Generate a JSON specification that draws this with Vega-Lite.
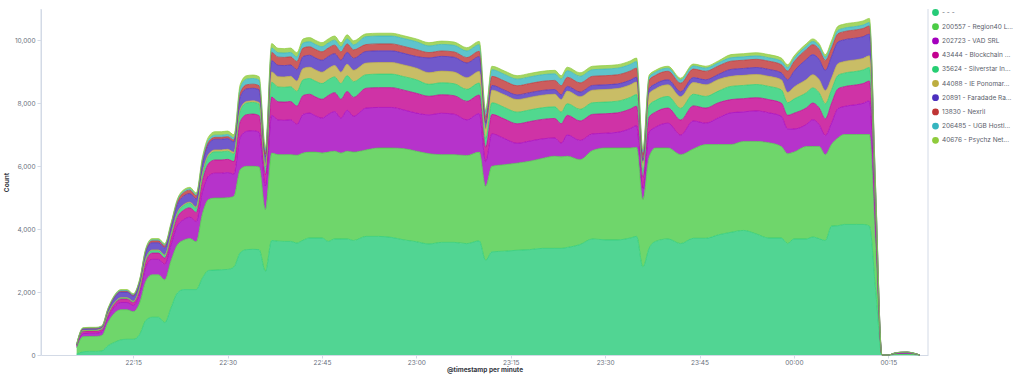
{
"$schema": "https://vega.github.io/schema/vega-lite/v6.json",
"width": 887, "height": 346,
"autosize": {"type": "none"},
"padding": {"left": 41, "top": 9, "right": 96, "bottom": 19},
"background": "white",
"config": {"view": {"stroke": null}},
"datasets": {
"names": [
{"s":0,"name":"- - -"},{"s":1,"name":"200557 - Region40 L..."},{"s":2,"name":"202723 - VAD SRL"},{"s":3,"name":"43444 - Blockchain ..."},{"s":4,"name":"35624 - Silverstar In..."},{"s":5,"name":"44088 - IE Ponomar..."},{"s":6,"name":"20891 - Faradade Ra..."},{"s":7,"name":"13830 - Nexril"},{"s":8,"name":"206485 - UGB Hostl..."},{"s":9,"name":"40676 - Psychz Net..."}
]
},
"layer": [
{
"data": {"values": [
{"t":"2024-01-01T22:06","s":0,"v":30},{"t":"2024-01-01T22:06","s":1,"v":200},{"t":"2024-01-01T22:06","s":2,"v":42},{"t":"2024-01-01T22:06","s":3,"v":30},{"t":"2024-01-01T22:06","s":4,"v":8},{"t":"2024-01-01T22:06","s":5,"v":4},{"t":"2024-01-01T22:06","s":6,"v":16},{"t":"2024-01-01T22:06","s":7,"v":8},{"t":"2024-01-01T22:06","s":8,"v":4},{"t":"2024-01-01T22:06","s":9,"v":8},
{"t":"2024-01-01T22:07","s":0,"v":100},{"t":"2024-01-01T22:07","s":1,"v":480},{"t":"2024-01-01T22:07","s":2,"v":100},{"t":"2024-01-01T22:07","s":3,"v":70},{"t":"2024-01-01T22:07","s":4,"v":20},{"t":"2024-01-01T22:07","s":5,"v":10},{"t":"2024-01-01T22:07","s":6,"v":40},{"t":"2024-01-01T22:07","s":7,"v":20},{"t":"2024-01-01T22:07","s":8,"v":10},{"t":"2024-01-01T22:07","s":9,"v":20},
{"t":"2024-01-01T22:08","s":0,"v":115},{"t":"2024-01-01T22:08","s":1,"v":475},{"t":"2024-01-01T22:08","s":2,"v":100},{"t":"2024-01-01T22:08","s":3,"v":70},{"t":"2024-01-01T22:08","s":4,"v":20},{"t":"2024-01-01T22:08","s":5,"v":10},{"t":"2024-01-01T22:08","s":6,"v":40},{"t":"2024-01-01T22:08","s":7,"v":20},{"t":"2024-01-01T22:08","s":8,"v":10},{"t":"2024-01-01T22:08","s":9,"v":20},
{"t":"2024-01-01T22:09","s":0,"v":115},{"t":"2024-01-01T22:09","s":1,"v":475},{"t":"2024-01-01T22:09","s":2,"v":100},{"t":"2024-01-01T22:09","s":3,"v":70},{"t":"2024-01-01T22:09","s":4,"v":20},{"t":"2024-01-01T22:09","s":5,"v":10},{"t":"2024-01-01T22:09","s":6,"v":40},{"t":"2024-01-01T22:09","s":7,"v":20},{"t":"2024-01-01T22:09","s":8,"v":10},{"t":"2024-01-01T22:09","s":9,"v":20},
{"t":"2024-01-01T22:10","s":0,"v":130},{"t":"2024-01-01T22:10","s":1,"v":490},{"t":"2024-01-01T22:10","s":2,"v":120},{"t":"2024-01-01T22:10","s":3,"v":70},{"t":"2024-01-01T22:10","s":4,"v":20},{"t":"2024-01-01T22:10","s":5,"v":10},{"t":"2024-01-01T22:10","s":6,"v":40},{"t":"2024-01-01T22:10","s":7,"v":20},{"t":"2024-01-01T22:10","s":8,"v":10},{"t":"2024-01-01T22:10","s":9,"v":20},
{"t":"2024-01-01T22:11","s":0,"v":300},{"t":"2024-01-01T22:11","s":1,"v":750},{"t":"2024-01-01T22:11","s":2,"v":150},{"t":"2024-01-01T22:11","s":3,"v":90},{"t":"2024-01-01T22:11","s":4,"v":25},{"t":"2024-01-01T22:11","s":5,"v":10},{"t":"2024-01-01T22:11","s":6,"v":110},{"t":"2024-01-01T22:11","s":7,"v":25},{"t":"2024-01-01T22:11","s":8,"v":15},{"t":"2024-01-01T22:11","s":9,"v":25},
{"t":"2024-01-01T22:12","s":0,"v":400},{"t":"2024-01-01T22:12","s":1,"v":930},{"t":"2024-01-01T22:12","s":2,"v":190},{"t":"2024-01-01T22:12","s":3,"v":100},{"t":"2024-01-01T22:12","s":4,"v":30},{"t":"2024-01-01T22:12","s":5,"v":10},{"t":"2024-01-01T22:12","s":6,"v":160},{"t":"2024-01-01T22:12","s":7,"v":30},{"t":"2024-01-01T22:12","s":8,"v":20},{"t":"2024-01-01T22:12","s":9,"v":30},
{"t":"2024-01-01T22:13","s":0,"v":480},{"t":"2024-01-01T22:13","s":1,"v":960},{"t":"2024-01-01T22:13","s":2,"v":230},{"t":"2024-01-01T22:13","s":3,"v":110},{"t":"2024-01-01T22:13","s":4,"v":30},{"t":"2024-01-01T22:13","s":5,"v":10},{"t":"2024-01-01T22:13","s":6,"v":180},{"t":"2024-01-01T22:13","s":7,"v":30},{"t":"2024-01-01T22:13","s":8,"v":20},{"t":"2024-01-01T22:13","s":9,"v":30},
{"t":"2024-01-01T22:14","s":0,"v":500},{"t":"2024-01-01T22:14","s":1,"v":940},{"t":"2024-01-01T22:14","s":2,"v":230},{"t":"2024-01-01T22:14","s":3,"v":110},{"t":"2024-01-01T22:14","s":4,"v":30},{"t":"2024-01-01T22:14","s":5,"v":10},{"t":"2024-01-01T22:14","s":6,"v":180},{"t":"2024-01-01T22:14","s":7,"v":30},{"t":"2024-01-01T22:14","s":8,"v":20},{"t":"2024-01-01T22:14","s":9,"v":30},
{"t":"2024-01-01T22:15","s":0,"v":500},{"t":"2024-01-01T22:15","s":1,"v":880},{"t":"2024-01-01T22:15","s":2,"v":190},{"t":"2024-01-01T22:15","s":3,"v":100},{"t":"2024-01-01T22:15","s":4,"v":30},{"t":"2024-01-01T22:15","s":5,"v":10},{"t":"2024-01-01T22:15","s":6,"v":160},{"t":"2024-01-01T22:15","s":7,"v":30},{"t":"2024-01-01T22:15","s":8,"v":20},{"t":"2024-01-01T22:15","s":9,"v":30},
{"t":"2024-01-01T22:16","s":0,"v":650},{"t":"2024-01-01T22:16","s":1,"v":1000},{"t":"2024-01-01T22:16","s":2,"v":290},{"t":"2024-01-01T22:16","s":3,"v":130},{"t":"2024-01-01T22:16","s":4,"v":40},{"t":"2024-01-01T22:16","s":5,"v":10},{"t":"2024-01-01T22:16","s":6,"v":190},{"t":"2024-01-01T22:16","s":7,"v":40},{"t":"2024-01-01T22:16","s":8,"v":20},{"t":"2024-01-01T22:16","s":9,"v":30},
{"t":"2024-01-01T22:17","s":0,"v":1100},{"t":"2024-01-01T22:17","s":1,"v":1250},{"t":"2024-01-01T22:17","s":2,"v":440},{"t":"2024-01-01T22:17","s":3,"v":180},{"t":"2024-01-01T22:17","s":4,"v":70},{"t":"2024-01-01T22:17","s":5,"v":20},{"t":"2024-01-01T22:17","s":6,"v":220},{"t":"2024-01-01T22:17","s":7,"v":50},{"t":"2024-01-01T22:17","s":8,"v":30},{"t":"2024-01-01T22:17","s":9,"v":40},
{"t":"2024-01-01T22:18","s":0,"v":1200},{"t":"2024-01-01T22:18","s":1,"v":1350},{"t":"2024-01-01T22:18","s":2,"v":490},{"t":"2024-01-01T22:18","s":3,"v":200},{"t":"2024-01-01T22:18","s":4,"v":80},{"t":"2024-01-01T22:18","s":5,"v":20},{"t":"2024-01-01T22:18","s":6,"v":230},{"t":"2024-01-01T22:18","s":7,"v":60},{"t":"2024-01-01T22:18","s":8,"v":30},{"t":"2024-01-01T22:18","s":9,"v":40},
{"t":"2024-01-01T22:19","s":0,"v":1200},{"t":"2024-01-01T22:19","s":1,"v":1350},{"t":"2024-01-01T22:19","s":2,"v":490},{"t":"2024-01-01T22:19","s":3,"v":200},{"t":"2024-01-01T22:19","s":4,"v":80},{"t":"2024-01-01T22:19","s":5,"v":20},{"t":"2024-01-01T22:19","s":6,"v":230},{"t":"2024-01-01T22:19","s":7,"v":60},{"t":"2024-01-01T22:19","s":8,"v":30},{"t":"2024-01-01T22:19","s":9,"v":40},
{"t":"2024-01-01T22:20","s":0,"v":1030},{"t":"2024-01-01T22:20","s":1,"v":1360},{"t":"2024-01-01T22:20","s":2,"v":490},{"t":"2024-01-01T22:20","s":3,"v":200},{"t":"2024-01-01T22:20","s":4,"v":80},{"t":"2024-01-01T22:20","s":5,"v":20},{"t":"2024-01-01T22:20","s":6,"v":230},{"t":"2024-01-01T22:20","s":7,"v":60},{"t":"2024-01-01T22:20","s":8,"v":30},{"t":"2024-01-01T22:20","s":9,"v":40},
{"t":"2024-01-01T22:21","s":0,"v":1500},{"t":"2024-01-01T22:21","s":1,"v":1500},{"t":"2024-01-01T22:21","s":2,"v":500},{"t":"2024-01-01T22:21","s":3,"v":210},{"t":"2024-01-01T22:21","s":4,"v":90},{"t":"2024-01-01T22:21","s":5,"v":20},{"t":"2024-01-01T22:21","s":6,"v":240},{"t":"2024-01-01T22:21","s":7,"v":70},{"t":"2024-01-01T22:21","s":8,"v":30},{"t":"2024-01-01T22:21","s":9,"v":40},
{"t":"2024-01-01T22:22","s":0,"v":1970},{"t":"2024-01-01T22:22","s":1,"v":1530},{"t":"2024-01-01T22:22","s":2,"v":605},{"t":"2024-01-01T22:22","s":3,"v":270},{"t":"2024-01-01T22:22","s":4,"v":120},{"t":"2024-01-01T22:22","s":5,"v":25},{"t":"2024-01-01T22:22","s":6,"v":260},{"t":"2024-01-01T22:22","s":7,"v":90},{"t":"2024-01-01T22:22","s":8,"v":35},{"t":"2024-01-01T22:22","s":9,"v":45},
{"t":"2024-01-01T22:23","s":0,"v":2080},{"t":"2024-01-01T22:23","s":1,"v":1570},{"t":"2024-01-01T22:23","s":2,"v":650},{"t":"2024-01-01T22:23","s":3,"v":300},{"t":"2024-01-01T22:23","s":4,"v":150},{"t":"2024-01-01T22:23","s":5,"v":30},{"t":"2024-01-01T22:23","s":6,"v":270},{"t":"2024-01-01T22:23","s":7,"v":110},{"t":"2024-01-01T22:23","s":8,"v":40},{"t":"2024-01-01T22:23","s":9,"v":50},
{"t":"2024-01-01T22:24","s":0,"v":2080},{"t":"2024-01-01T22:24","s":1,"v":1620},{"t":"2024-01-01T22:24","s":2,"v":680},{"t":"2024-01-01T22:24","s":3,"v":300},{"t":"2024-01-01T22:24","s":4,"v":150},{"t":"2024-01-01T22:24","s":5,"v":30},{"t":"2024-01-01T22:24","s":6,"v":270},{"t":"2024-01-01T22:24","s":7,"v":110},{"t":"2024-01-01T22:24","s":8,"v":40},{"t":"2024-01-01T22:24","s":9,"v":50},
{"t":"2024-01-01T22:25","s":0,"v":2080},{"t":"2024-01-01T22:25","s":1,"v":1520},{"t":"2024-01-01T22:25","s":2,"v":640},{"t":"2024-01-01T22:25","s":3,"v":290},{"t":"2024-01-01T22:25","s":4,"v":140},{"t":"2024-01-01T22:25","s":5,"v":30},{"t":"2024-01-01T22:25","s":6,"v":260},{"t":"2024-01-01T22:25","s":7,"v":100},{"t":"2024-01-01T22:25","s":8,"v":40},{"t":"2024-01-01T22:25","s":9,"v":50},
{"t":"2024-01-01T22:26","s":0,"v":2450},{"t":"2024-01-01T22:26","s":1,"v":2050},{"t":"2024-01-01T22:26","s":2,"v":690},{"t":"2024-01-01T22:26","s":3,"v":350},{"t":"2024-01-01T22:26","s":4,"v":200},{"t":"2024-01-01T22:26","s":5,"v":45},{"t":"2024-01-01T22:26","s":6,"v":300},{"t":"2024-01-01T22:26","s":7,"v":80},{"t":"2024-01-01T22:26","s":8,"v":55},{"t":"2024-01-01T22:26","s":9,"v":80},
{"t":"2024-01-01T22:27","s":0,"v":2690},{"t":"2024-01-01T22:27","s":1,"v":2260},{"t":"2024-01-01T22:27","s":2,"v":745},{"t":"2024-01-01T22:27","s":3,"v":400},{"t":"2024-01-01T22:27","s":4,"v":240},{"t":"2024-01-01T22:27","s":5,"v":55},{"t":"2024-01-01T22:27","s":6,"v":330},{"t":"2024-01-01T22:27","s":7,"v":65},{"t":"2024-01-01T22:27","s":8,"v":65},{"t":"2024-01-01T22:27","s":9,"v":100},
{"t":"2024-01-01T22:28","s":0,"v":2700},{"t":"2024-01-01T22:28","s":1,"v":2290},{"t":"2024-01-01T22:28","s":2,"v":790},{"t":"2024-01-01T22:28","s":3,"v":420},{"t":"2024-01-01T22:28","s":4,"v":260},{"t":"2024-01-01T22:28","s":5,"v":60},{"t":"2024-01-01T22:28","s":6,"v":340},{"t":"2024-01-01T22:28","s":7,"v":60},{"t":"2024-01-01T22:28","s":8,"v":70},{"t":"2024-01-01T22:28","s":9,"v":110},
{"t":"2024-01-01T22:29","s":0,"v":2710},{"t":"2024-01-01T22:29","s":1,"v":2280},{"t":"2024-01-01T22:29","s":2,"v":790},{"t":"2024-01-01T22:29","s":3,"v":420},{"t":"2024-01-01T22:29","s":4,"v":260},{"t":"2024-01-01T22:29","s":5,"v":60},{"t":"2024-01-01T22:29","s":6,"v":340},{"t":"2024-01-01T22:29","s":7,"v":60},{"t":"2024-01-01T22:29","s":8,"v":70},{"t":"2024-01-01T22:29","s":9,"v":110},
{"t":"2024-01-01T22:30","s":0,"v":2720},{"t":"2024-01-01T22:30","s":1,"v":2280},{"t":"2024-01-01T22:30","s":2,"v":800},{"t":"2024-01-01T22:30","s":3,"v":420},{"t":"2024-01-01T22:30","s":4,"v":260},{"t":"2024-01-01T22:30","s":5,"v":60},{"t":"2024-01-01T22:30","s":6,"v":340},{"t":"2024-01-01T22:30","s":7,"v":60},{"t":"2024-01-01T22:30","s":8,"v":70},{"t":"2024-01-01T22:30","s":9,"v":110},
{"t":"2024-01-01T22:31","s":0,"v":2800},{"t":"2024-01-01T22:31","s":1,"v":2250},{"t":"2024-01-01T22:31","s":2,"v":700},{"t":"2024-01-01T22:31","s":3,"v":400},{"t":"2024-01-01T22:31","s":4,"v":240},{"t":"2024-01-01T22:31","s":5,"v":55},{"t":"2024-01-01T22:31","s":6,"v":330},{"t":"2024-01-01T22:31","s":7,"v":60},{"t":"2024-01-01T22:31","s":8,"v":65},{"t":"2024-01-01T22:31","s":9,"v":100},
{"t":"2024-01-01T22:32","s":0,"v":3250},{"t":"2024-01-01T22:32","s":1,"v":2650},{"t":"2024-01-01T22:32","s":2,"v":1020},{"t":"2024-01-01T22:32","s":3,"v":500},{"t":"2024-01-01T22:32","s":4,"v":350},{"t":"2024-01-01T22:32","s":5,"v":50},{"t":"2024-01-01T22:32","s":6,"v":390},{"t":"2024-01-01T22:32","s":7,"v":120},{"t":"2024-01-01T22:32","s":8,"v":160},{"t":"2024-01-01T22:32","s":9,"v":110},
{"t":"2024-01-01T22:33","s":0,"v":3350},{"t":"2024-01-01T22:33","s":1,"v":2650},{"t":"2024-01-01T22:33","s":2,"v":1110},{"t":"2024-01-01T22:33","s":3,"v":530},{"t":"2024-01-01T22:33","s":4,"v":370},{"t":"2024-01-01T22:33","s":5,"v":50},{"t":"2024-01-01T22:33","s":6,"v":400},{"t":"2024-01-01T22:33","s":7,"v":130},{"t":"2024-01-01T22:33","s":8,"v":180},{"t":"2024-01-01T22:33","s":9,"v":110},
{"t":"2024-01-01T22:34","s":0,"v":3360},{"t":"2024-01-01T22:34","s":1,"v":2640},{"t":"2024-01-01T22:34","s":2,"v":1130},{"t":"2024-01-01T22:34","s":3,"v":530},{"t":"2024-01-01T22:34","s":4,"v":370},{"t":"2024-01-01T22:34","s":5,"v":50},{"t":"2024-01-01T22:34","s":6,"v":400},{"t":"2024-01-01T22:34","s":7,"v":130},{"t":"2024-01-01T22:34","s":8,"v":180},{"t":"2024-01-01T22:34","s":9,"v":110},
{"t":"2024-01-01T22:35","s":0,"v":3350},{"t":"2024-01-01T22:35","s":1,"v":2630},{"t":"2024-01-01T22:35","s":2,"v":1100},{"t":"2024-01-01T22:35","s":3,"v":530},{"t":"2024-01-01T22:35","s":4,"v":370},{"t":"2024-01-01T22:35","s":5,"v":50},{"t":"2024-01-01T22:35","s":6,"v":400},{"t":"2024-01-01T22:35","s":7,"v":130},{"t":"2024-01-01T22:35","s":8,"v":180},{"t":"2024-01-01T22:35","s":9,"v":110},
{"t":"2024-01-01T22:36","s":0,"v":2660},{"t":"2024-01-01T22:36","s":1,"v":1960},{"t":"2024-01-01T22:36","s":2,"v":755},{"t":"2024-01-01T22:36","s":3,"v":360},{"t":"2024-01-01T22:36","s":4,"v":250},{"t":"2024-01-01T22:36","s":5,"v":35},{"t":"2024-01-01T22:36","s":6,"v":280},{"t":"2024-01-01T22:36","s":7,"v":90},{"t":"2024-01-01T22:36","s":8,"v":120},{"t":"2024-01-01T22:36","s":9,"v":80},
{"t":"2024-01-01T22:37","s":0,"v":3640},{"t":"2024-01-01T22:37","s":1,"v":2780},{"t":"2024-01-01T22:37","s":2,"v":1200},{"t":"2024-01-01T22:37","s":3,"v":580},{"t":"2024-01-01T22:37","s":4,"v":470},{"t":"2024-01-01T22:37","s":5,"v":330},{"t":"2024-01-01T22:37","s":6,"v":360},{"t":"2024-01-01T22:37","s":7,"v":260},{"t":"2024-01-01T22:37","s":8,"v":140},{"t":"2024-01-01T22:37","s":9,"v":140},
{"t":"2024-01-01T22:38","s":0,"v":3620},{"t":"2024-01-01T22:38","s":1,"v":2750},{"t":"2024-01-01T22:38","s":2,"v":1100},{"t":"2024-01-01T22:38","s":3,"v":580},{"t":"2024-01-01T22:38","s":4,"v":470},{"t":"2024-01-01T22:38","s":5,"v":330},{"t":"2024-01-01T22:38","s":6,"v":360},{"t":"2024-01-01T22:38","s":7,"v":260},{"t":"2024-01-01T22:38","s":8,"v":140},{"t":"2024-01-01T22:38","s":9,"v":140},
{"t":"2024-01-01T22:39","s":0,"v":3610},{"t":"2024-01-01T22:39","s":1,"v":2760},{"t":"2024-01-01T22:39","s":2,"v":1090},{"t":"2024-01-01T22:39","s":3,"v":580},{"t":"2024-01-01T22:39","s":4,"v":470},{"t":"2024-01-01T22:39","s":5,"v":330},{"t":"2024-01-01T22:39","s":6,"v":360},{"t":"2024-01-01T22:39","s":7,"v":260},{"t":"2024-01-01T22:39","s":8,"v":140},{"t":"2024-01-01T22:39","s":9,"v":140},
{"t":"2024-01-01T22:40","s":0,"v":3610},{"t":"2024-01-01T22:40","s":1,"v":2760},{"t":"2024-01-01T22:40","s":2,"v":1110},{"t":"2024-01-01T22:40","s":3,"v":580},{"t":"2024-01-01T22:40","s":4,"v":470},{"t":"2024-01-01T22:40","s":5,"v":330},{"t":"2024-01-01T22:40","s":6,"v":360},{"t":"2024-01-01T22:40","s":7,"v":260},{"t":"2024-01-01T22:40","s":8,"v":140},{"t":"2024-01-01T22:40","s":9,"v":140},
{"t":"2024-01-01T22:41","s":0,"v":3560},{"t":"2024-01-01T22:41","s":1,"v":2790},{"t":"2024-01-01T22:41","s":2,"v":980},{"t":"2024-01-01T22:41","s":3,"v":580},{"t":"2024-01-01T22:41","s":4,"v":470},{"t":"2024-01-01T22:41","s":5,"v":330},{"t":"2024-01-01T22:41","s":6,"v":360},{"t":"2024-01-01T22:41","s":7,"v":260},{"t":"2024-01-01T22:41","s":8,"v":140},{"t":"2024-01-01T22:41","s":9,"v":140},
{"t":"2024-01-01T22:42","s":0,"v":3650},{"t":"2024-01-01T22:42","s":1,"v":2770},{"t":"2024-01-01T22:42","s":2,"v":1230},{"t":"2024-01-01T22:42","s":3,"v":600},{"t":"2024-01-01T22:42","s":4,"v":500},{"t":"2024-01-01T22:42","s":5,"v":360},{"t":"2024-01-01T22:42","s":6,"v":380},{"t":"2024-01-01T22:42","s":7,"v":270},{"t":"2024-01-01T22:42","s":8,"v":160},{"t":"2024-01-01T22:42","s":9,"v":130},
{"t":"2024-01-01T22:43","s":0,"v":3720},{"t":"2024-01-01T22:43","s":1,"v":2730},{"t":"2024-01-01T22:43","s":2,"v":1240},{"t":"2024-01-01T22:43","s":3,"v":600},{"t":"2024-01-01T22:43","s":4,"v":500},{"t":"2024-01-01T22:43","s":5,"v":360},{"t":"2024-01-01T22:43","s":6,"v":380},{"t":"2024-01-01T22:43","s":7,"v":270},{"t":"2024-01-01T22:43","s":8,"v":160},{"t":"2024-01-01T22:43","s":9,"v":130},
{"t":"2024-01-01T22:44","s":0,"v":3720},{"t":"2024-01-01T22:44","s":1,"v":2730},{"t":"2024-01-01T22:44","s":2,"v":1150},{"t":"2024-01-01T22:44","s":3,"v":600},{"t":"2024-01-01T22:44","s":4,"v":500},{"t":"2024-01-01T22:44","s":5,"v":360},{"t":"2024-01-01T22:44","s":6,"v":380},{"t":"2024-01-01T22:44","s":7,"v":270},{"t":"2024-01-01T22:44","s":8,"v":160},{"t":"2024-01-01T22:44","s":9,"v":130},
{"t":"2024-01-01T22:45","s":0,"v":3720},{"t":"2024-01-01T22:45","s":1,"v":2700},{"t":"2024-01-01T22:45","s":2,"v":1110},{"t":"2024-01-01T22:45","s":3,"v":600},{"t":"2024-01-01T22:45","s":4,"v":500},{"t":"2024-01-01T22:45","s":5,"v":360},{"t":"2024-01-01T22:45","s":6,"v":380},{"t":"2024-01-01T22:45","s":7,"v":270},{"t":"2024-01-01T22:45","s":8,"v":160},{"t":"2024-01-01T22:45","s":9,"v":130},
{"t":"2024-01-01T22:46","s":0,"v":3610},{"t":"2024-01-01T22:46","s":1,"v":2840},{"t":"2024-01-01T22:46","s":2,"v":1200},{"t":"2024-01-01T22:46","s":3,"v":600},{"t":"2024-01-01T22:46","s":4,"v":500},{"t":"2024-01-01T22:46","s":5,"v":360},{"t":"2024-01-01T22:46","s":6,"v":380},{"t":"2024-01-01T22:46","s":7,"v":270},{"t":"2024-01-01T22:46","s":8,"v":160},{"t":"2024-01-01T22:46","s":9,"v":130},
{"t":"2024-01-01T22:47","s":0,"v":3690},{"t":"2024-01-01T22:47","s":1,"v":2790},{"t":"2024-01-01T22:47","s":2,"v":1260},{"t":"2024-01-01T22:47","s":3,"v":600},{"t":"2024-01-01T22:47","s":4,"v":500},{"t":"2024-01-01T22:47","s":5,"v":360},{"t":"2024-01-01T22:47","s":6,"v":380},{"t":"2024-01-01T22:47","s":7,"v":270},{"t":"2024-01-01T22:47","s":8,"v":160},{"t":"2024-01-01T22:47","s":9,"v":130},
{"t":"2024-01-01T22:48","s":0,"v":3690},{"t":"2024-01-01T22:48","s":1,"v":2730},{"t":"2024-01-01T22:48","s":2,"v":1110},{"t":"2024-01-01T22:48","s":3,"v":600},{"t":"2024-01-01T22:48","s":4,"v":500},{"t":"2024-01-01T22:48","s":5,"v":360},{"t":"2024-01-01T22:48","s":6,"v":380},{"t":"2024-01-01T22:48","s":7,"v":270},{"t":"2024-01-01T22:48","s":8,"v":160},{"t":"2024-01-01T22:48","s":9,"v":130},
{"t":"2024-01-01T22:49","s":0,"v":3690},{"t":"2024-01-01T22:49","s":1,"v":2790},{"t":"2024-01-01T22:49","s":2,"v":1300},{"t":"2024-01-01T22:49","s":3,"v":600},{"t":"2024-01-01T22:49","s":4,"v":500},{"t":"2024-01-01T22:49","s":5,"v":360},{"t":"2024-01-01T22:49","s":6,"v":380},{"t":"2024-01-01T22:49","s":7,"v":270},{"t":"2024-01-01T22:49","s":8,"v":160},{"t":"2024-01-01T22:49","s":9,"v":130},
{"t":"2024-01-01T22:50","s":0,"v":3640},{"t":"2024-01-01T22:50","s":1,"v":2810},{"t":"2024-01-01T22:50","s":2,"v":1140},{"t":"2024-01-01T22:50","s":3,"v":600},{"t":"2024-01-01T22:50","s":4,"v":500},{"t":"2024-01-01T22:50","s":5,"v":360},{"t":"2024-01-01T22:50","s":6,"v":380},{"t":"2024-01-01T22:50","s":7,"v":270},{"t":"2024-01-01T22:50","s":8,"v":160},{"t":"2024-01-01T22:50","s":9,"v":130},
{"t":"2024-01-01T22:52","s":0,"v":3770},{"t":"2024-01-01T22:52","s":1,"v":2750},{"t":"2024-01-01T22:52","s":2,"v":1330},{"t":"2024-01-01T22:52","s":3,"v":630},{"t":"2024-01-01T22:52","s":4,"v":430},{"t":"2024-01-01T22:52","s":5,"v":370},{"t":"2024-01-01T22:52","s":6,"v":370},{"t":"2024-01-01T22:52","s":7,"v":220},{"t":"2024-01-01T22:52","s":8,"v":250},{"t":"2024-01-01T22:52","s":9,"v":90},
{"t":"2024-01-01T22:54","s":0,"v":3770},{"t":"2024-01-01T22:54","s":1,"v":2810},{"t":"2024-01-01T22:54","s":2,"v":1290},{"t":"2024-01-01T22:54","s":3,"v":630},{"t":"2024-01-01T22:54","s":4,"v":430},{"t":"2024-01-01T22:54","s":5,"v":370},{"t":"2024-01-01T22:54","s":6,"v":370},{"t":"2024-01-01T22:54","s":7,"v":220},{"t":"2024-01-01T22:54","s":8,"v":250},{"t":"2024-01-01T22:54","s":9,"v":90},
{"t":"2024-01-01T22:56","s":0,"v":3740},{"t":"2024-01-01T22:56","s":1,"v":2840},{"t":"2024-01-01T22:56","s":2,"v":1290},{"t":"2024-01-01T22:56","s":3,"v":630},{"t":"2024-01-01T22:56","s":4,"v":430},{"t":"2024-01-01T22:56","s":5,"v":370},{"t":"2024-01-01T22:56","s":6,"v":370},{"t":"2024-01-01T22:56","s":7,"v":220},{"t":"2024-01-01T22:56","s":8,"v":250},{"t":"2024-01-01T22:56","s":9,"v":90},
{"t":"2024-01-01T22:58","s":0,"v":3660},{"t":"2024-01-01T22:58","s":1,"v":2900},{"t":"2024-01-01T22:58","s":2,"v":1230},{"t":"2024-01-01T22:58","s":3,"v":630},{"t":"2024-01-01T22:58","s":4,"v":430},{"t":"2024-01-01T22:58","s":5,"v":370},{"t":"2024-01-01T22:58","s":6,"v":370},{"t":"2024-01-01T22:58","s":7,"v":220},{"t":"2024-01-01T22:58","s":8,"v":250},{"t":"2024-01-01T22:58","s":9,"v":90},
{"t":"2024-01-01T23:00","s":0,"v":3600},{"t":"2024-01-01T23:00","s":1,"v":2880},{"t":"2024-01-01T23:00","s":2,"v":1210},{"t":"2024-01-01T23:00","s":3,"v":630},{"t":"2024-01-01T23:00","s":4,"v":430},{"t":"2024-01-01T23:00","s":5,"v":370},{"t":"2024-01-01T23:00","s":6,"v":370},{"t":"2024-01-01T23:00","s":7,"v":220},{"t":"2024-01-01T23:00","s":8,"v":250},{"t":"2024-01-01T23:00","s":9,"v":90},
{"t":"2024-01-01T23:02","s":0,"v":3530},{"t":"2024-01-01T23:02","s":1,"v":2870},{"t":"2024-01-01T23:02","s":2,"v":1235},{"t":"2024-01-01T23:02","s":3,"v":590},{"t":"2024-01-01T23:02","s":4,"v":380},{"t":"2024-01-01T23:02","s":5,"v":370},{"t":"2024-01-01T23:02","s":6,"v":470},{"t":"2024-01-01T23:02","s":7,"v":170},{"t":"2024-01-01T23:02","s":8,"v":210},{"t":"2024-01-01T23:02","s":9,"v":105},
{"t":"2024-01-01T23:04","s":0,"v":3580},{"t":"2024-01-01T23:04","s":1,"v":2790},{"t":"2024-01-01T23:04","s":2,"v":1315},{"t":"2024-01-01T23:04","s":3,"v":590},{"t":"2024-01-01T23:04","s":4,"v":380},{"t":"2024-01-01T23:04","s":5,"v":370},{"t":"2024-01-01T23:04","s":6,"v":470},{"t":"2024-01-01T23:04","s":7,"v":170},{"t":"2024-01-01T23:04","s":8,"v":210},{"t":"2024-01-01T23:04","s":9,"v":105},
{"t":"2024-01-01T23:06","s":0,"v":3580},{"t":"2024-01-01T23:06","s":1,"v":2790},{"t":"2024-01-01T23:06","s":2,"v":1285},{"t":"2024-01-01T23:06","s":3,"v":590},{"t":"2024-01-01T23:06","s":4,"v":380},{"t":"2024-01-01T23:06","s":5,"v":370},{"t":"2024-01-01T23:06","s":6,"v":470},{"t":"2024-01-01T23:06","s":7,"v":170},{"t":"2024-01-01T23:06","s":8,"v":210},{"t":"2024-01-01T23:06","s":9,"v":105},
{"t":"2024-01-01T23:08","s":0,"v":3540},{"t":"2024-01-01T23:08","s":1,"v":2800},{"t":"2024-01-01T23:08","s":2,"v":1135},{"t":"2024-01-01T23:08","s":3,"v":590},{"t":"2024-01-01T23:08","s":4,"v":380},{"t":"2024-01-01T23:08","s":5,"v":370},{"t":"2024-01-01T23:08","s":6,"v":470},{"t":"2024-01-01T23:08","s":7,"v":170},{"t":"2024-01-01T23:08","s":8,"v":210},{"t":"2024-01-01T23:08","s":9,"v":105},
{"t":"2024-01-01T23:10","s":0,"v":3630},{"t":"2024-01-01T23:10","s":1,"v":2820},{"t":"2024-01-01T23:10","s":2,"v":1225},{"t":"2024-01-01T23:10","s":3,"v":590},{"t":"2024-01-01T23:10","s":4,"v":380},{"t":"2024-01-01T23:10","s":5,"v":370},{"t":"2024-01-01T23:10","s":6,"v":470},{"t":"2024-01-01T23:10","s":7,"v":170},{"t":"2024-01-01T23:10","s":8,"v":210},{"t":"2024-01-01T23:10","s":9,"v":105},
{"t":"2024-01-01T23:11","s":0,"v":3010},{"t":"2024-01-01T23:11","s":1,"v":2350},{"t":"2024-01-01T23:11","s":2,"v":790},{"t":"2024-01-01T23:11","s":3,"v":450},{"t":"2024-01-01T23:11","s":4,"v":280},{"t":"2024-01-01T23:11","s":5,"v":300},{"t":"2024-01-01T23:11","s":6,"v":200},{"t":"2024-01-01T23:11","s":7,"v":180},{"t":"2024-01-01T23:11","s":8,"v":160},{"t":"2024-01-01T23:11","s":9,"v":80},
{"t":"2024-01-01T23:12","s":0,"v":3280},{"t":"2024-01-01T23:12","s":1,"v":2720},{"t":"2024-01-01T23:12","s":2,"v":1030},{"t":"2024-01-01T23:12","s":3,"v":620},{"t":"2024-01-01T23:12","s":4,"v":370},{"t":"2024-01-01T23:12","s":5,"v":400},{"t":"2024-01-01T23:12","s":6,"v":150},{"t":"2024-01-01T23:12","s":7,"v":290},{"t":"2024-01-01T23:12","s":8,"v":210},{"t":"2024-01-01T23:12","s":9,"v":110},
{"t":"2024-01-01T23:14","s":0,"v":3300},{"t":"2024-01-01T23:14","s":1,"v":2750},{"t":"2024-01-01T23:14","s":2,"v":830},{"t":"2024-01-01T23:14","s":3,"v":620},{"t":"2024-01-01T23:14","s":4,"v":370},{"t":"2024-01-01T23:14","s":5,"v":400},{"t":"2024-01-01T23:14","s":6,"v":150},{"t":"2024-01-01T23:14","s":7,"v":290},{"t":"2024-01-01T23:14","s":8,"v":210},{"t":"2024-01-01T23:14","s":9,"v":110},
{"t":"2024-01-01T23:16","s":0,"v":3330},{"t":"2024-01-01T23:16","s":1,"v":2770},{"t":"2024-01-01T23:16","s":2,"v":630},{"t":"2024-01-01T23:16","s":3,"v":620},{"t":"2024-01-01T23:16","s":4,"v":370},{"t":"2024-01-01T23:16","s":5,"v":400},{"t":"2024-01-01T23:16","s":6,"v":150},{"t":"2024-01-01T23:16","s":7,"v":290},{"t":"2024-01-01T23:16","s":8,"v":210},{"t":"2024-01-01T23:16","s":9,"v":110},
{"t":"2024-01-01T23:18","s":0,"v":3350},{"t":"2024-01-01T23:18","s":1,"v":2810},{"t":"2024-01-01T23:18","s":2,"v":640},{"t":"2024-01-01T23:18","s":3,"v":620},{"t":"2024-01-01T23:18","s":4,"v":370},{"t":"2024-01-01T23:18","s":5,"v":400},{"t":"2024-01-01T23:18","s":6,"v":150},{"t":"2024-01-01T23:18","s":7,"v":290},{"t":"2024-01-01T23:18","s":8,"v":210},{"t":"2024-01-01T23:18","s":9,"v":110},
{"t":"2024-01-01T23:20","s":0,"v":3390},{"t":"2024-01-01T23:20","s":1,"v":2860},{"t":"2024-01-01T23:20","s":2,"v":620},{"t":"2024-01-01T23:20","s":3,"v":620},{"t":"2024-01-01T23:20","s":4,"v":370},{"t":"2024-01-01T23:20","s":5,"v":400},{"t":"2024-01-01T23:20","s":6,"v":150},{"t":"2024-01-01T23:20","s":7,"v":290},{"t":"2024-01-01T23:20","s":8,"v":210},{"t":"2024-01-01T23:20","s":9,"v":110},
{"t":"2024-01-01T23:22","s":0,"v":3390},{"t":"2024-01-01T23:22","s":1,"v":2930},{"t":"2024-01-01T23:22","s":2,"v":580},{"t":"2024-01-01T23:22","s":3,"v":620},{"t":"2024-01-01T23:22","s":4,"v":370},{"t":"2024-01-01T23:22","s":5,"v":400},{"t":"2024-01-01T23:22","s":6,"v":150},{"t":"2024-01-01T23:22","s":7,"v":290},{"t":"2024-01-01T23:22","s":8,"v":210},{"t":"2024-01-01T23:22","s":9,"v":110},
{"t":"2024-01-01T23:23","s":0,"v":3390},{"t":"2024-01-01T23:23","s":1,"v":2910},{"t":"2024-01-01T23:23","s":2,"v":430},{"t":"2024-01-01T23:23","s":3,"v":620},{"t":"2024-01-01T23:23","s":4,"v":370},{"t":"2024-01-01T23:23","s":5,"v":400},{"t":"2024-01-01T23:23","s":6,"v":150},{"t":"2024-01-01T23:23","s":7,"v":290},{"t":"2024-01-01T23:23","s":8,"v":210},{"t":"2024-01-01T23:23","s":9,"v":110},
{"t":"2024-01-01T23:24","s":0,"v":3420},{"t":"2024-01-01T23:24","s":1,"v":2900},{"t":"2024-01-01T23:24","s":2,"v":680},{"t":"2024-01-01T23:24","s":3,"v":620},{"t":"2024-01-01T23:24","s":4,"v":370},{"t":"2024-01-01T23:24","s":5,"v":400},{"t":"2024-01-01T23:24","s":6,"v":150},{"t":"2024-01-01T23:24","s":7,"v":290},{"t":"2024-01-01T23:24","s":8,"v":210},{"t":"2024-01-01T23:24","s":9,"v":110},
{"t":"2024-01-01T23:26","s":0,"v":3510},{"t":"2024-01-01T23:26","s":1,"v":2700},{"t":"2024-01-01T23:26","s":2,"v":610},{"t":"2024-01-01T23:26","s":3,"v":620},{"t":"2024-01-01T23:26","s":4,"v":370},{"t":"2024-01-01T23:26","s":5,"v":400},{"t":"2024-01-01T23:26","s":6,"v":150},{"t":"2024-01-01T23:26","s":7,"v":290},{"t":"2024-01-01T23:26","s":8,"v":210},{"t":"2024-01-01T23:26","s":9,"v":110},
{"t":"2024-01-01T23:28","s":0,"v":3690},{"t":"2024-01-01T23:28","s":1,"v":2810},{"t":"2024-01-01T23:28","s":2,"v":530},{"t":"2024-01-01T23:28","s":3,"v":620},{"t":"2024-01-01T23:28","s":4,"v":370},{"t":"2024-01-01T23:28","s":5,"v":400},{"t":"2024-01-01T23:28","s":6,"v":150},{"t":"2024-01-01T23:28","s":7,"v":290},{"t":"2024-01-01T23:28","s":8,"v":210},{"t":"2024-01-01T23:28","s":9,"v":110},
{"t":"2024-01-01T23:30","s":0,"v":3660},{"t":"2024-01-01T23:30","s":1,"v":2920},{"t":"2024-01-01T23:30","s":2,"v":470},{"t":"2024-01-01T23:30","s":3,"v":620},{"t":"2024-01-01T23:30","s":4,"v":370},{"t":"2024-01-01T23:30","s":5,"v":400},{"t":"2024-01-01T23:30","s":6,"v":150},{"t":"2024-01-01T23:30","s":7,"v":290},{"t":"2024-01-01T23:30","s":8,"v":210},{"t":"2024-01-01T23:30","s":9,"v":110},
{"t":"2024-01-01T23:32","s":0,"v":3660},{"t":"2024-01-01T23:32","s":1,"v":2920},{"t":"2024-01-01T23:32","s":2,"v":500},{"t":"2024-01-01T23:32","s":3,"v":620},{"t":"2024-01-01T23:32","s":4,"v":370},{"t":"2024-01-01T23:32","s":5,"v":400},{"t":"2024-01-01T23:32","s":6,"v":150},{"t":"2024-01-01T23:32","s":7,"v":290},{"t":"2024-01-01T23:32","s":8,"v":210},{"t":"2024-01-01T23:32","s":9,"v":110},
{"t":"2024-01-01T23:34","s":0,"v":3720},{"t":"2024-01-01T23:34","s":1,"v":2860},{"t":"2024-01-01T23:34","s":2,"v":620},{"t":"2024-01-01T23:34","s":3,"v":620},{"t":"2024-01-01T23:34","s":4,"v":370},{"t":"2024-01-01T23:34","s":5,"v":400},{"t":"2024-01-01T23:34","s":6,"v":150},{"t":"2024-01-01T23:34","s":7,"v":290},{"t":"2024-01-01T23:34","s":8,"v":210},{"t":"2024-01-01T23:34","s":9,"v":110},
{"t":"2024-01-01T23:35","s":0,"v":3770},{"t":"2024-01-01T23:35","s":1,"v":2830},{"t":"2024-01-01T23:35","s":2,"v":690},{"t":"2024-01-01T23:35","s":3,"v":620},{"t":"2024-01-01T23:35","s":4,"v":370},{"t":"2024-01-01T23:35","s":5,"v":400},{"t":"2024-01-01T23:35","s":6,"v":150},{"t":"2024-01-01T23:35","s":7,"v":290},{"t":"2024-01-01T23:35","s":8,"v":210},{"t":"2024-01-01T23:35","s":9,"v":110},
{"t":"2024-01-01T23:36","s":0,"v":2800},{"t":"2024-01-01T23:36","s":1,"v":2140},{"t":"2024-01-01T23:36","s":2,"v":350},{"t":"2024-01-01T23:36","s":3,"v":350},{"t":"2024-01-01T23:36","s":4,"v":220},{"t":"2024-01-01T23:36","s":5,"v":230},{"t":"2024-01-01T23:36","s":6,"v":90},{"t":"2024-01-01T23:36","s":7,"v":170},{"t":"2024-01-01T23:36","s":8,"v":120},{"t":"2024-01-01T23:36","s":9,"v":60},
{"t":"2024-01-01T23:37","s":0,"v":3400},{"t":"2024-01-01T23:37","s":1,"v":2900},{"t":"2024-01-01T23:37","s":2,"v":790},{"t":"2024-01-01T23:37","s":3,"v":480},{"t":"2024-01-01T23:37","s":4,"v":370},{"t":"2024-01-01T23:37","s":5,"v":370},{"t":"2024-01-01T23:37","s":6,"v":160},{"t":"2024-01-01T23:37","s":7,"v":270},{"t":"2024-01-01T23:37","s":8,"v":100},{"t":"2024-01-01T23:37","s":9,"v":60},
{"t":"2024-01-01T23:38","s":0,"v":3610},{"t":"2024-01-01T23:38","s":1,"v":2970},{"t":"2024-01-01T23:38","s":2,"v":660},{"t":"2024-01-01T23:38","s":3,"v":480},{"t":"2024-01-01T23:38","s":4,"v":370},{"t":"2024-01-01T23:38","s":5,"v":370},{"t":"2024-01-01T23:38","s":6,"v":160},{"t":"2024-01-01T23:38","s":7,"v":270},{"t":"2024-01-01T23:38","s":8,"v":100},{"t":"2024-01-01T23:38","s":9,"v":60},
{"t":"2024-01-01T23:40","s":0,"v":3690},{"t":"2024-01-01T23:40","s":1,"v":2890},{"t":"2024-01-01T23:40","s":2,"v":790},{"t":"2024-01-01T23:40","s":3,"v":480},{"t":"2024-01-01T23:40","s":4,"v":370},{"t":"2024-01-01T23:40","s":5,"v":370},{"t":"2024-01-01T23:40","s":6,"v":160},{"t":"2024-01-01T23:40","s":7,"v":270},{"t":"2024-01-01T23:40","s":8,"v":100},{"t":"2024-01-01T23:40","s":9,"v":60},
{"t":"2024-01-01T23:42","s":0,"v":3540},{"t":"2024-01-01T23:42","s":1,"v":2830},{"t":"2024-01-01T23:42","s":2,"v":620},{"t":"2024-01-01T23:42","s":3,"v":480},{"t":"2024-01-01T23:42","s":4,"v":370},{"t":"2024-01-01T23:42","s":5,"v":370},{"t":"2024-01-01T23:42","s":6,"v":160},{"t":"2024-01-01T23:42","s":7,"v":270},{"t":"2024-01-01T23:42","s":8,"v":100},{"t":"2024-01-01T23:42","s":9,"v":60},
{"t":"2024-01-01T23:44","s":0,"v":3710},{"t":"2024-01-01T23:44","s":1,"v":2840},{"t":"2024-01-01T23:44","s":2,"v":890},{"t":"2024-01-01T23:44","s":3,"v":480},{"t":"2024-01-01T23:44","s":4,"v":370},{"t":"2024-01-01T23:44","s":5,"v":370},{"t":"2024-01-01T23:44","s":6,"v":160},{"t":"2024-01-01T23:44","s":7,"v":270},{"t":"2024-01-01T23:44","s":8,"v":100},{"t":"2024-01-01T23:44","s":9,"v":60},
{"t":"2024-01-01T23:46","s":0,"v":3710},{"t":"2024-01-01T23:46","s":1,"v":2980},{"t":"2024-01-01T23:46","s":2,"v":680},{"t":"2024-01-01T23:46","s":3,"v":480},{"t":"2024-01-01T23:46","s":4,"v":370},{"t":"2024-01-01T23:46","s":5,"v":370},{"t":"2024-01-01T23:46","s":6,"v":160},{"t":"2024-01-01T23:46","s":7,"v":270},{"t":"2024-01-01T23:46","s":8,"v":100},{"t":"2024-01-01T23:46","s":9,"v":60},
{"t":"2024-01-01T23:48","s":0,"v":3820},{"t":"2024-01-01T23:48","s":1,"v":2870},{"t":"2024-01-01T23:48","s":2,"v":850},{"t":"2024-01-01T23:48","s":3,"v":480},{"t":"2024-01-01T23:48","s":4,"v":370},{"t":"2024-01-01T23:48","s":5,"v":370},{"t":"2024-01-01T23:48","s":6,"v":160},{"t":"2024-01-01T23:48","s":7,"v":270},{"t":"2024-01-01T23:48","s":8,"v":100},{"t":"2024-01-01T23:48","s":9,"v":60},
{"t":"2024-01-01T23:50","s":0,"v":3900},{"t":"2024-01-01T23:50","s":1,"v":2790},{"t":"2024-01-01T23:50","s":2,"v":1010},{"t":"2024-01-01T23:50","s":3,"v":420},{"t":"2024-01-01T23:50","s":4,"v":420},{"t":"2024-01-01T23:50","s":5,"v":320},{"t":"2024-01-01T23:50","s":6,"v":220},{"t":"2024-01-01T23:50","s":7,"v":260},{"t":"2024-01-01T23:50","s":8,"v":110},{"t":"2024-01-01T23:50","s":9,"v":100},
{"t":"2024-01-01T23:52","s":0,"v":3960},{"t":"2024-01-01T23:52","s":1,"v":2830},{"t":"2024-01-01T23:52","s":2,"v":940},{"t":"2024-01-01T23:52","s":3,"v":420},{"t":"2024-01-01T23:52","s":4,"v":420},{"t":"2024-01-01T23:52","s":5,"v":320},{"t":"2024-01-01T23:52","s":6,"v":220},{"t":"2024-01-01T23:52","s":7,"v":260},{"t":"2024-01-01T23:52","s":8,"v":110},{"t":"2024-01-01T23:52","s":9,"v":100},
{"t":"2024-01-01T23:54","s":0,"v":3850},{"t":"2024-01-01T23:54","s":1,"v":2940},{"t":"2024-01-01T23:54","s":2,"v":970},{"t":"2024-01-01T23:54","s":3,"v":420},{"t":"2024-01-01T23:54","s":4,"v":420},{"t":"2024-01-01T23:54","s":5,"v":320},{"t":"2024-01-01T23:54","s":6,"v":220},{"t":"2024-01-01T23:54","s":7,"v":260},{"t":"2024-01-01T23:54","s":8,"v":110},{"t":"2024-01-01T23:54","s":9,"v":100},
{"t":"2024-01-01T23:56","s":0,"v":3720},{"t":"2024-01-01T23:56","s":1,"v":3030},{"t":"2024-01-01T23:56","s":2,"v":950},{"t":"2024-01-01T23:56","s":3,"v":420},{"t":"2024-01-01T23:56","s":4,"v":420},{"t":"2024-01-01T23:56","s":5,"v":320},{"t":"2024-01-01T23:56","s":6,"v":220},{"t":"2024-01-01T23:56","s":7,"v":260},{"t":"2024-01-01T23:56","s":8,"v":110},{"t":"2024-01-01T23:56","s":9,"v":100},
{"t":"2024-01-01T23:58","s":0,"v":3720},{"t":"2024-01-01T23:58","s":1,"v":2910},{"t":"2024-01-01T23:58","s":2,"v":960},{"t":"2024-01-01T23:58","s":3,"v":420},{"t":"2024-01-01T23:58","s":4,"v":420},{"t":"2024-01-01T23:58","s":5,"v":320},{"t":"2024-01-01T23:58","s":6,"v":220},{"t":"2024-01-01T23:58","s":7,"v":260},{"t":"2024-01-01T23:58","s":8,"v":110},{"t":"2024-01-01T23:58","s":9,"v":100},
{"t":"2024-01-01T23:59","s":0,"v":3540},{"t":"2024-01-01T23:59","s":1,"v":2860},{"t":"2024-01-01T23:59","s":2,"v":790},{"t":"2024-01-01T23:59","s":3,"v":430},{"t":"2024-01-01T23:59","s":4,"v":400},{"t":"2024-01-01T23:59","s":5,"v":330},{"t":"2024-01-01T23:59","s":6,"v":400},{"t":"2024-01-01T23:59","s":7,"v":280},{"t":"2024-01-01T23:59","s":8,"v":110},{"t":"2024-01-01T23:59","s":9,"v":90},
{"t":"2024-01-02T00:00","s":0,"v":3690},{"t":"2024-01-02T00:00","s":1,"v":2760},{"t":"2024-01-02T00:00","s":2,"v":735},{"t":"2024-01-02T00:00","s":3,"v":500},{"t":"2024-01-02T00:00","s":4,"v":450},{"t":"2024-01-02T00:00","s":5,"v":380},{"t":"2024-01-02T00:00","s":6,"v":500},{"t":"2024-01-02T00:00","s":7,"v":300},{"t":"2024-01-02T00:00","s":8,"v":105},{"t":"2024-01-02T00:00","s":9,"v":80},
{"t":"2024-01-02T00:02","s":0,"v":3690},{"t":"2024-01-02T00:02","s":1,"v":2940},{"t":"2024-01-02T00:02","s":2,"v":700},{"t":"2024-01-02T00:02","s":3,"v":530},{"t":"2024-01-02T00:02","s":4,"v":480},{"t":"2024-01-02T00:02","s":5,"v":420},{"t":"2024-01-02T00:02","s":6,"v":640},{"t":"2024-01-02T00:02","s":7,"v":315},{"t":"2024-01-02T00:02","s":8,"v":105},{"t":"2024-01-02T00:02","s":9,"v":80},
{"t":"2024-01-02T00:03","s":0,"v":3750},{"t":"2024-01-02T00:03","s":1,"v":2880},{"t":"2024-01-02T00:03","s":2,"v":850},{"t":"2024-01-02T00:03","s":3,"v":530},{"t":"2024-01-02T00:03","s":4,"v":480},{"t":"2024-01-02T00:03","s":5,"v":420},{"t":"2024-01-02T00:03","s":6,"v":640},{"t":"2024-01-02T00:03","s":7,"v":315},{"t":"2024-01-02T00:03","s":8,"v":105},{"t":"2024-01-02T00:03","s":9,"v":80},
{"t":"2024-01-02T00:04","s":0,"v":3700},{"t":"2024-01-02T00:04","s":1,"v":2930},{"t":"2024-01-02T00:04","s":2,"v":700},{"t":"2024-01-02T00:04","s":3,"v":530},{"t":"2024-01-02T00:04","s":4,"v":480},{"t":"2024-01-02T00:04","s":5,"v":420},{"t":"2024-01-02T00:04","s":6,"v":640},{"t":"2024-01-02T00:04","s":7,"v":315},{"t":"2024-01-02T00:04","s":8,"v":105},{"t":"2024-01-02T00:04","s":9,"v":80},
{"t":"2024-01-02T00:05","s":0,"v":3640},{"t":"2024-01-02T00:05","s":1,"v":2730},{"t":"2024-01-02T00:05","s":2,"v":610},{"t":"2024-01-02T00:05","s":3,"v":530},{"t":"2024-01-02T00:05","s":4,"v":480},{"t":"2024-01-02T00:05","s":5,"v":420},{"t":"2024-01-02T00:05","s":6,"v":640},{"t":"2024-01-02T00:05","s":7,"v":315},{"t":"2024-01-02T00:05","s":8,"v":105},{"t":"2024-01-02T00:05","s":9,"v":80},
{"t":"2024-01-02T00:06","s":0,"v":4100},{"t":"2024-01-02T00:06","s":1,"v":2600},{"t":"2024-01-02T00:06","s":2,"v":680},{"t":"2024-01-02T00:06","s":3,"v":630},{"t":"2024-01-02T00:06","s":4,"v":430},{"t":"2024-01-02T00:06","s":5,"v":370},{"t":"2024-01-02T00:06","s":6,"v":690},{"t":"2024-01-02T00:06","s":7,"v":260},{"t":"2024-01-02T00:06","s":8,"v":110},{"t":"2024-01-02T00:06","s":9,"v":130},
{"t":"2024-01-02T00:07","s":0,"v":4110},{"t":"2024-01-02T00:07","s":1,"v":2790},{"t":"2024-01-02T00:07","s":2,"v":930},{"t":"2024-01-02T00:07","s":3,"v":630},{"t":"2024-01-02T00:07","s":4,"v":430},{"t":"2024-01-02T00:07","s":5,"v":370},{"t":"2024-01-02T00:07","s":6,"v":690},{"t":"2024-01-02T00:07","s":7,"v":260},{"t":"2024-01-02T00:07","s":8,"v":110},{"t":"2024-01-02T00:07","s":9,"v":130},
{"t":"2024-01-02T00:08","s":0,"v":4150},{"t":"2024-01-02T00:08","s":1,"v":2860},{"t":"2024-01-02T00:08","s":2,"v":890},{"t":"2024-01-02T00:08","s":3,"v":630},{"t":"2024-01-02T00:08","s":4,"v":430},{"t":"2024-01-02T00:08","s":5,"v":370},{"t":"2024-01-02T00:08","s":6,"v":690},{"t":"2024-01-02T00:08","s":7,"v":260},{"t":"2024-01-02T00:08","s":8,"v":110},{"t":"2024-01-02T00:08","s":9,"v":130},
{"t":"2024-01-02T00:10","s":0,"v":4150},{"t":"2024-01-02T00:10","s":1,"v":2860},{"t":"2024-01-02T00:10","s":2,"v":950},{"t":"2024-01-02T00:10","s":3,"v":630},{"t":"2024-01-02T00:10","s":4,"v":430},{"t":"2024-01-02T00:10","s":5,"v":370},{"t":"2024-01-02T00:10","s":6,"v":690},{"t":"2024-01-02T00:10","s":7,"v":260},{"t":"2024-01-02T00:10","s":8,"v":110},{"t":"2024-01-02T00:10","s":9,"v":130},
{"t":"2024-01-02T00:11","s":0,"v":4150},{"t":"2024-01-02T00:11","s":1,"v":2860},{"t":"2024-01-02T00:11","s":2,"v":990},{"t":"2024-01-02T00:11","s":3,"v":630},{"t":"2024-01-02T00:11","s":4,"v":430},{"t":"2024-01-02T00:11","s":5,"v":370},{"t":"2024-01-02T00:11","s":6,"v":690},{"t":"2024-01-02T00:11","s":7,"v":260},{"t":"2024-01-02T00:11","s":8,"v":110},{"t":"2024-01-02T00:11","s":9,"v":130},
{"t":"2024-01-02T00:12","s":0,"v":4100},{"t":"2024-01-02T00:12","s":1,"v":2910},{"t":"2024-01-02T00:12","s":2,"v":1070},{"t":"2024-01-02T00:12","s":3,"v":630},{"t":"2024-01-02T00:12","s":4,"v":430},{"t":"2024-01-02T00:12","s":5,"v":370},{"t":"2024-01-02T00:12","s":6,"v":690},{"t":"2024-01-02T00:12","s":7,"v":260},{"t":"2024-01-02T00:12","s":8,"v":110},{"t":"2024-01-02T00:12","s":9,"v":130},
{"t":"2024-01-02T00:13","s":0,"v":2050},{"t":"2024-01-02T00:13","s":1,"v":1450},{"t":"2024-01-02T00:13","s":2,"v":500},{"t":"2024-01-02T00:13","s":3,"v":310},{"t":"2024-01-02T00:13","s":4,"v":215},{"t":"2024-01-02T00:13","s":5,"v":185},{"t":"2024-01-02T00:13","s":6,"v":345},{"t":"2024-01-02T00:13","s":7,"v":130},{"t":"2024-01-02T00:13","s":8,"v":55},{"t":"2024-01-02T00:13","s":9,"v":65},
{"t":"2024-01-02T00:14","s":0,"v":0},{"t":"2024-01-02T00:14","s":1,"v":0},{"t":"2024-01-02T00:14","s":2,"v":0},{"t":"2024-01-02T00:14","s":3,"v":0},{"t":"2024-01-02T00:14","s":4,"v":0},{"t":"2024-01-02T00:14","s":5,"v":0},{"t":"2024-01-02T00:14","s":6,"v":0},{"t":"2024-01-02T00:14","s":7,"v":0},{"t":"2024-01-02T00:14","s":8,"v":0},{"t":"2024-01-02T00:14","s":9,"v":0},
{"t":"2024-01-02T00:15","s":0,"v":0},{"t":"2024-01-02T00:15","s":1,"v":0},{"t":"2024-01-02T00:15","s":2,"v":0},{"t":"2024-01-02T00:15","s":3,"v":0},{"t":"2024-01-02T00:15","s":4,"v":0},{"t":"2024-01-02T00:15","s":5,"v":0},{"t":"2024-01-02T00:15","s":6,"v":0},{"t":"2024-01-02T00:15","s":7,"v":0},{"t":"2024-01-02T00:15","s":8,"v":0},{"t":"2024-01-02T00:15","s":9,"v":0},
{"t":"2024-01-02T00:16","s":0,"v":5},{"t":"2024-01-02T00:16","s":1,"v":15},{"t":"2024-01-02T00:16","s":2,"v":25},{"t":"2024-01-02T00:16","s":3,"v":10},{"t":"2024-01-02T00:16","s":4,"v":5},{"t":"2024-01-02T00:16","s":5,"v":0},{"t":"2024-01-02T00:16","s":6,"v":0},{"t":"2024-01-02T00:16","s":7,"v":0},{"t":"2024-01-02T00:16","s":8,"v":0},{"t":"2024-01-02T00:16","s":9,"v":0},
{"t":"2024-01-02T00:17","s":0,"v":10},{"t":"2024-01-02T00:17","s":1,"v":20},{"t":"2024-01-02T00:17","s":2,"v":30},{"t":"2024-01-02T00:17","s":3,"v":15},{"t":"2024-01-02T00:17","s":4,"v":5},{"t":"2024-01-02T00:17","s":5,"v":5},{"t":"2024-01-02T00:17","s":6,"v":0},{"t":"2024-01-02T00:17","s":7,"v":5},{"t":"2024-01-02T00:17","s":8,"v":0},{"t":"2024-01-02T00:17","s":9,"v":0},
{"t":"2024-01-02T00:18","s":0,"v":10},{"t":"2024-01-02T00:18","s":1,"v":20},{"t":"2024-01-02T00:18","s":2,"v":35},{"t":"2024-01-02T00:18","s":3,"v":15},{"t":"2024-01-02T00:18","s":4,"v":5},{"t":"2024-01-02T00:18","s":5,"v":5},{"t":"2024-01-02T00:18","s":6,"v":0},{"t":"2024-01-02T00:18","s":7,"v":5},{"t":"2024-01-02T00:18","s":8,"v":0},{"t":"2024-01-02T00:18","s":9,"v":0},
{"t":"2024-01-02T00:19","s":0,"v":5},{"t":"2024-01-02T00:19","s":1,"v":15},{"t":"2024-01-02T00:19","s":2,"v":25},{"t":"2024-01-02T00:19","s":3,"v":10},{"t":"2024-01-02T00:19","s":4,"v":5},{"t":"2024-01-02T00:19","s":5,"v":0},{"t":"2024-01-02T00:19","s":6,"v":0},{"t":"2024-01-02T00:19","s":7,"v":0},{"t":"2024-01-02T00:19","s":8,"v":0},{"t":"2024-01-02T00:19","s":9,"v":0},
{"t":"2024-01-02T00:20","s":0,"v":0},{"t":"2024-01-02T00:20","s":1,"v":0},{"t":"2024-01-02T00:20","s":2,"v":0},{"t":"2024-01-02T00:20","s":3,"v":0},{"t":"2024-01-02T00:20","s":4,"v":0},{"t":"2024-01-02T00:20","s":5,"v":0},{"t":"2024-01-02T00:20","s":6,"v":0},{"t":"2024-01-02T00:20","s":7,"v":0},{"t":"2024-01-02T00:20","s":8,"v":0},{"t":"2024-01-02T00:20","s":9,"v":0}
]},
"transform": [{"lookup": "s", "from": {"data": {"name": "names"}, "key": "s", "fields": ["name"]}}],
"mark": {"type": "area", "interpolate": "monotone", "fillOpacity": 0.8, "line": {"strokeWidth": 0.7}},
"encoding": {
"x": {"field": "t", "type": "temporal", "title": "@timestamp per minute",
"scale": {"nice": false},
"axis": {"format": "%H:%M", "tickCount": 9, "grid": false, "tickSize": 3, "labelPadding": 1, "domainColor": "#d3dae6", "tickColor": "#d3dae6", "labelColor": "#69707d", "labelFont": "Inter", "labelFontSize": 6.5, "titleFont": "Inter", "titleFontSize": 6.5, "titleFontWeight": "bold", "titleColor": "#343741", "titlePadding": 1}},
"y": {"field": "v", "type": "quantitative", "stack": "zero", "title": "Count",
"scale": {"domain": [0, 11000], "nice": false},
"axis": {"values": [0, 2000, 4000, 6000, 8000, 10000], "format": ",.0f", "grid": false, "tickSize": 4, "labelPadding": 2, "domainColor": "#d3dae6", "tickColor": "#d3dae6", "labelColor": "#69707d", "labelFont": "Inter", "labelFontSize": 6.5, "titleFont": "Inter", "titleFontSize": 6.5, "titleFontWeight": "bold", "titleColor": "#343741", "titlePadding": 5}},
"color": {"field": "name", "type": "nominal",
"scale": {"domain": ["- - -", "200557 - Region40 L...", "202723 - VAD SRL", "43444 - Blockchain ...", "35624 - Silverstar In...", "44088 - IE Ponomar...", "20891 - Faradade Ra...", "13830 - Nexril", "206485 - UGB Hostl...", "40676 - Psychz Net..."],
"range": ["#26cb78", "#4bcc46", "#a400be", "#c30090", "#26ce73", "#bcad40", "#4c30be", "#bf3535", "#36b5bf", "#8fcb3c"]},
"legend": {"orient": "right", "offset": 3.5, "padding": 0, "title": null, "symbolType": "circle", "symbolSize": 28, "labelFont": "Inter", "labelFontSize": 6.5, "labelColor": "#5a606b", "labelOffset": 3, "labelLimit": 120, "rowPadding": 1.2}},
"order": {"field": "s", "type": "quantitative"}
}
},
{
"data": {"values": [{"t": "2024-01-01T22:00:20"}, {"t": "2024-01-02T00:21:19"}]},
"mark": {"type": "rule", "color": "#d3dae6", "strokeWidth": 1},
"encoding": {"x": {"field": "t", "type": "temporal"}}
}
]
}
